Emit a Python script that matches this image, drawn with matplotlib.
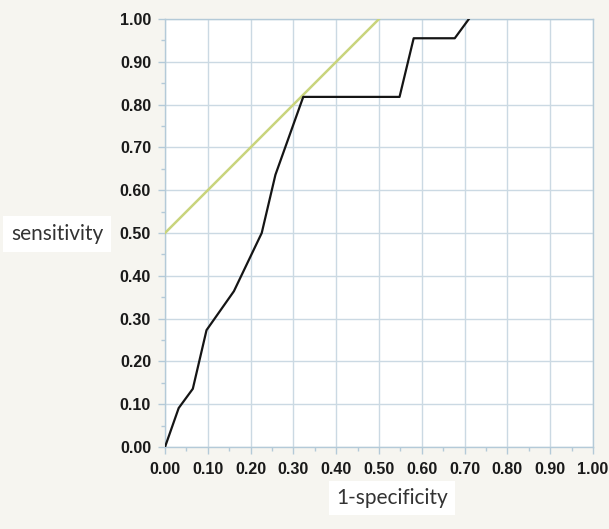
import matplotlib.pyplot as plt
import numpy as np
from matplotlib.ticker import MultipleLocator

# ROC curve
fpr = [0.0, 0.032, 0.065, 0.097, 0.161, 0.226, 0.258, 0.323, 0.548, 0.581, 0.677, 0.710]
tpr = [0.0, 0.091, 0.136, 0.273, 0.364, 0.500, 0.636, 0.818, 0.818, 0.955, 0.955, 1.0]

# reference line (tangent)
ref_x = [0.0, 0.5]
ref_y = [0.5, 1.0]

ticks = np.round(np.arange(0, 1.01, 0.1), 2)
tick_labels = [f"{t:.2f}" for t in ticks]

bg = '#f6f5f0'
blue = '#b4cad8'

fig = plt.figure(figsize=(6.09, 5.29), dpi=100, facecolor=bg)
ax = fig.add_axes([165/609, 82/529, 428/609, 428/529])
ax.set_facecolor('white')

ax.plot(ref_x, ref_y, color='#c9d47c', lw=1.8, zorder=3)
ax.plot(fpr, tpr, color='#151515', lw=1.6, zorder=4)

ax.set_xlim(0, 1)
ax.set_ylim(0, 1)
ax.set_xticks(ticks)
ax.set_yticks(ticks)
ax.set_xticklabels(tick_labels)
ax.set_yticklabels(tick_labels)
ax.xaxis.set_minor_locator(MultipleLocator(0.05))
ax.yaxis.set_minor_locator(MultipleLocator(0.05))
ax.grid(True, which='major', color='#cbd9e3', lw=1.0)
ax.set_axisbelow(True)

for s in ax.spines.values():
    s.set_color(blue)
    s.set_linewidth(1.0)

ax.tick_params(which='major', length=5, width=1, color=blue, labelsize=11.5,
               labelcolor='#1a1a1a')
ax.tick_params(axis='x', which='major', pad=6)
ax.tick_params(axis='y', which='major', pad=5)
ax.tick_params(which='minor', length=3, width=1, color=blue)
for lab in ax.get_xticklabels() + ax.get_yticklabels():
    lab.set_family('Liberation Sans')
    lab.set_fontweight('bold')

fig.text(57/609, 1 - 234/529, 'sensitivity', ha='center', va='center',
         fontsize=15, family='Lato', color='#333333',
         bbox=dict(facecolor='white', edgecolor='none', pad=6))
fig.text(392/609, 1 - 498/529, '1-specificity', ha='center', va='center',
         fontsize=15, family='Lato', color='#333333',
         bbox=dict(facecolor='white', edgecolor='none', pad=5))

fig.savefig('out.png', dpi=100, facecolor=bg)
